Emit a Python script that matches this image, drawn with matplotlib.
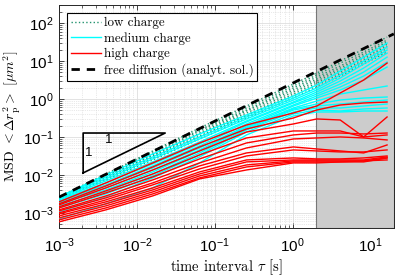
import matplotlib
matplotlib.use('Agg')
import matplotlib.pyplot as plt
from matplotlib.lines import Line2D

plt.rcParams['font.family'] = 'serif'
plt.rcParams['font.serif'] = ['cmr10']
plt.rcParams['mathtext.fontset'] = 'cm'
plt.rcParams['axes.unicode_minus'] = False
plt.rcParams['axes.formatter.use_mathtext'] = True

# time intervals [s]
tau = [0.001, 0.004, 0.016, 0.064, 0.256, 1.024, 2.048, 4.096, 8.192, 16.384]

# MSD [um^2], one row per particle
msd_low = [
    [2.64e-3, 1.06e-2, 4.28e-2, 0.173, 0.654, 2.48, 4.83, 10.0, 20.7, 42.8],
    [2.64e-3, 1.00e-2, 4.03e-2, 0.153, 0.580, 2.20, 4.28, 8.86, 17.3, 35.7],
    [2.48e-3, 9.41e-3, 3.57e-2, 0.144, 0.513, 1.95, 3.79, 7.39, 15.3, 31.6],
    [2.48e-3, 9.41e-3, 3.36e-2, 0.127, 0.483, 1.73, 3.36, 6.54, 13.5, 28.0],
    [2.48e-3, 8.86e-3, 3.16e-2, 0.120, 0.428, 1.53, 2.98, 5.80, 12.0, 24.8],
    [2.34e-3, 8.34e-3, 2.98e-2, 0.106, 0.379, 1.35, 2.64, 5.13, 10.6, 22.0],
    [2.34e-3, 7.85e-3, 2.80e-2, 0.100, 0.357, 1.20, 2.34, 4.55, 9.41, 19.5],
    [2.20e-3, 7.39e-3, 2.48e-2, 8.86e-2, 0.316, 1.06, 2.07, 4.03, 8.34, 17.3],
]

msd_medium = [
    [2.64e-3, 1.00e-2, 3.57e-2, 0.120, 0.379, 1.20, 2.34, 5.46, 12.7, 29.8],
    [2.64e-3, 8.86e-3, 2.98e-2, 0.100, 0.336, 1.06, 1.95, 4.28, 10.0, 23.4],
    [2.48e-3, 7.85e-3, 2.64e-2, 8.86e-2, 0.298, 0.941, 1.73, 3.57, 8.34, 19.5],
    [2.34e-3, 6.95e-3, 2.20e-2, 7.39e-2, 0.264, 0.834, 1.53, 2.98, 6.54, 16.2],
    [2.20e-3, 6.16e-3, 1.95e-2, 6.54e-2, 0.248, 0.785, 1.35, 2.48, 5.13, 12.7],
    [2.07e-3, 5.46e-3, 1.73e-2, 5.80e-2, 0.220, 0.695, 1.20, 2.07, 4.03, 9.41],
    [1.95e-3, 5.13e-3, 1.53e-2, 5.13e-2, 0.195, 0.654, 1.06, 1.73, 3.16, 6.95],
    [1.83e-3, 4.55e-3, 1.35e-2, 4.55e-2, 0.183, 0.580, 0.886, 1.35, 1.73, 2.20],
    [1.73e-3, 4.03e-3, 1.20e-2, 4.28e-2, 0.173, 0.546, 0.739, 0.941, 1.06, 1.13],
    [1.53e-3, 3.57e-3, 1.06e-2, 3.79e-2, 0.162, 0.513, 0.654, 0.739, 0.834, 0.941],
    [1.35e-3, 3.16e-3, 9.41e-3, 3.36e-2, 0.153, 0.455, 0.580, 0.580, 0.654, 0.739],
    [1.06e-3, 2.64e-3, 8.34e-3, 2.98e-2, 0.135, 0.403, 0.513, 0.483, 0.546, 0.580],
    [6.95e-4, 1.73e-3, 4.55e-3, 2.07e-2, 0.113, 0.357, 0.455, 0.455, 0.483, 0.483],
]

msd_high = [
    [1.95e-3, 6.16e-3, 2.07e-2, 6.95e-2, 0.207, 0.428, 0.654, 1.44, 3.16, 8.86],
    [1.73e-3, 5.13e-3, 1.62e-2, 5.46e-2, 0.162, 0.316, 0.513, 0.695, 0.785, 0.834],
    [1.62e-3, 4.55e-3, 1.35e-2, 4.28e-2, 0.135, 0.220, 0.298, 0.280, 0.100, 0.113],
    [1.44e-3, 3.79e-3, 1.06e-2, 3.36e-2, 9.41e-2, 0.144, 0.144, 0.144, 0.100, 0.336],
    [1.35e-3, 3.36e-3, 8.86e-3, 2.64e-2, 6.95e-2, 0.113, 0.127, 0.127, 0.120, 0.127],
    [1.20e-3, 2.80e-3, 7.39e-3, 2.07e-2, 5.13e-2, 8.86e-2, 9.41e-2, 0.100, 9.41e-2, 8.34e-2],
    [1.13e-3, 2.48e-3, 6.16e-3, 1.73e-2, 3.79e-2, 5.46e-2, 4.83e-2, 4.28e-2, 3.79e-2, 6.16e-2],
    [1.00e-3, 2.20e-3, 5.46e-3, 1.44e-2, 3.16e-2, 4.55e-2, 4.28e-2, 4.03e-2, 4.03e-2, 4.55e-2],
    [9.41e-4, 1.95e-3, 4.55e-3, 1.20e-2, 2.48e-2, 2.80e-2, 2.64e-2, 2.64e-2, 2.80e-2, 3.16e-2],
    [8.34e-4, 1.73e-3, 4.03e-3, 1.06e-2, 2.20e-2, 2.48e-2, 2.48e-2, 2.48e-2, 2.48e-2, 2.98e-2],
    [7.39e-4, 1.53e-3, 3.57e-3, 9.41e-3, 1.83e-2, 2.34e-2, 2.34e-2, 2.34e-2, 2.34e-2, 2.48e-2],
    [6.54e-4, 1.35e-3, 3.16e-3, 8.34e-3, 1.62e-2, 2.20e-2, 2.20e-2, 2.20e-2, 2.20e-2, 2.80e-2],
    [5.80e-4, 1.20e-3, 2.80e-3, 7.85e-3, 1.35e-2, 2.07e-2, 2.07e-2, 2.20e-2, 2.34e-2, 2.80e-2],
]

# free diffusion, analytical solution
tau_free = [1e-3, 20]
msd_free = [2.6e-3, 52]

# region not used (gray)
gray_span = [2, 20]

# slope-1 triangle
tri_tau = [2.04e-3, 2.04e-3, 2.31e-2, 2.04e-3]
tri_msd = [1.13e-2, 0.127, 0.127, 1.13e-2]

c_low = '#23936e'
c_med = '#00ffff'
c_high = '#ff0000'

fig = plt.figure(figsize=(3.99, 2.78), dpi=100)
ax = fig.add_axes([0.148, 0.18, 0.839, 0.802])
ax.set_xscale('log')
ax.set_yscale('log')
ax.set_xlim(1e-3, 20)
ax.set_ylim(4e-4, 300)

ax.set_axisbelow(True)
ax.grid(True, which='major', color='#dedede', lw=0.6, ls='-')
ax.grid(True, which='minor', color='#d4d4d4', lw=0.5, ls=':')

ax.axvspan(gray_span[0], gray_span[1], facecolor='#cccccc', edgecolor='#777777', lw=0.8, zorder=1)

for m in msd_low:
    ax.plot(tau, m, color=c_low, ls=':', lw=1.0, zorder=2)
for m in msd_medium:
    ax.plot(tau, m, color=c_med, lw=1.0, zorder=3)
for m in msd_high:
    ax.plot(tau, m, color=c_high, lw=1.0, zorder=4)
ax.plot(tau_free, msd_free, color='k', lw=2.0, dashes=(3, 2.5), zorder=5)

# triangle
ax.plot(tri_tau, tri_msd, color='k', lw=1.2, zorder=5)
ax.text(2.43e-3, 3.79e-2, '1', fontsize=9.5, family='Liberation Sans', ha='center', va='center')
ax.text(4.3e-3, 8.5e-2, '1', fontsize=9.5, family='Liberation Sans', ha='center', va='center')

handles = [
    Line2D([], [], color=c_low, ls=':', lw=1.0),
    Line2D([], [], color=c_med, lw=1.0),
    Line2D([], [], color=c_high, lw=1.0),
    Line2D([], [], color='k', lw=2.0, dashes=(3, 2.5)),
]
labels = ['low charge', 'medium charge', 'high charge', 'free diffusion (analyt. sol.)']
leg = ax.legend(handles, labels, loc='upper left', bbox_to_anchor=(0.024, 0.964),
                borderaxespad=0, fancybox=False, edgecolor='k', framealpha=1,
                fontsize=9.4, handlelength=2.3, handletextpad=0.2,
                labelspacing=0.25, borderpad=0.3)
leg.get_frame().set_linewidth(0.8)
leg.set_zorder(10)

ax.tick_params(which='both', direction='in', top=True, right=True,
               labelsize=11, labelfontfamily='Liberation Sans', color='#262626')
ax.tick_params(axis='x', which='major', pad=6)
ax.tick_params(axis='y', which='major', pad=4)
ax.tick_params(which='major', length=3.5, width=0.6)
ax.tick_params(which='minor', length=2, width=0.5)
for s in ax.spines.values():
    s.set_linewidth(0.7)
    s.set_color('#262626')

ax.set_xlabel(r'time interval $\tau$ [s]', fontsize=10.5, labelpad=2)
ax.set_ylabel(r'MSD $<\Delta r_\mathrm{p}^2>$ $[\mu m^2]$', fontsize=10)
ax.yaxis.set_label_coords(-0.107, 0.5)

fig.savefig('out.png', dpi=100)
